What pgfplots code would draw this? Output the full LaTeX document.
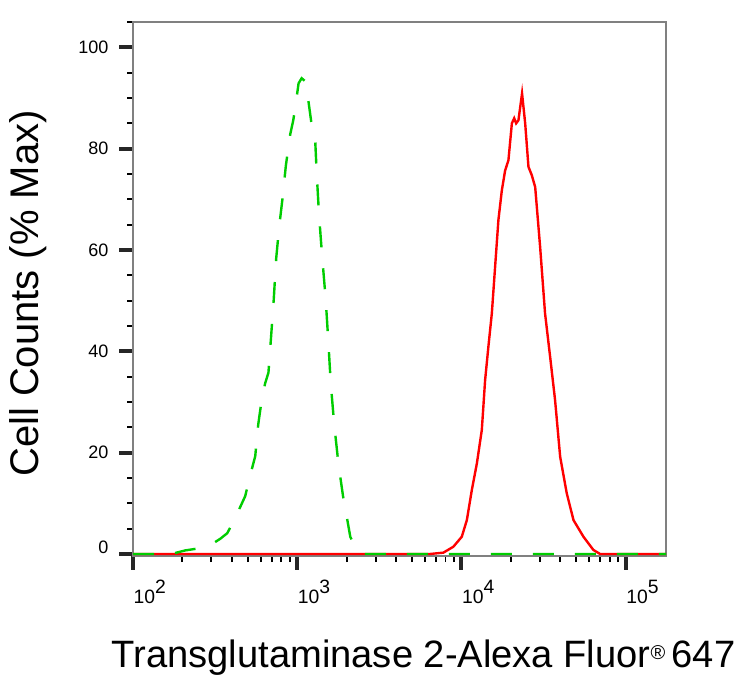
\documentclass[border=0pt]{standalone}
\usepackage{pgfplots}
\pgfplotsset{compat=1.18}
\usepackage{fontspec}
\setmainfont{Liberation Sans}
\definecolor{fcred}{RGB}{255,0,0}
\definecolor{fcgreen}{RGB}{0,205,0}
\definecolor{axgray}{RGB}{128,128,128}
\newcommand\dec[1]{10\raisebox{7.5pt}{#1}}

\begin{document}
\begin{tikzpicture}
\begin{axis}[
  scale only axis, width=399.75pt, height=400.5pt,
  xmode=log, xmin=100, xmax=176000,
  ymin=-0.4, ymax=105,
  axis line style={axgray, line width=1.5pt},
  xtick pos=lower, ytick pos=left, tick align=outside,
  xtick={100,1000,10000,100000},
  xticklabels={\dec{2},\dec{3},\dec{4},\dec{5}},
  minor xtick={200,300,400,500,600,700,800,900,2000,3000,4000,5000,6000,7000,8000,9000,20000,30000,40000,50000,60000,70000,80000,90000},
  ytick={0,20,40,60,80,100},
  yticklabels={\raisebox{10pt}{0},20,40,60,80,100},
  minor ytick={5,10,15,25,30,35,45,50,55,65,70,75,85,90,95,105},
  major tick length=10.5pt, minor tick length=4.5pt,
  major tick style={line width=3pt, black!85},
  minor tick style={line width=1.4pt, black},
  ticklabel style={font=\fontsize{13.5}{13.5}\selectfont},
  xticklabel style={anchor=north west, xshift=-3pt, yshift=-4pt, font=\fontsize{14.5}{14.5}\selectfont},
  yticklabel style={xshift=-4.5pt},
  xlabel={Transglutaminase 2-Alexa Fluor\raisebox{6.5pt}{\fontsize{15}{15}\selectfont\textregistered}\,647},
  xlabel style={at={(axis description cs:0.545,-0.2097)}, anchor=base, font=\fontsize{28.6}{28.6}\selectfont},
  ylabel={Cell Counts (\% Max)},
  ylabel style={at={(axis description cs:-0.1775,0.4916)}, anchor=base, font=\fontsize{30}{30}\selectfont},
]
\addplot[fcred, line width=1.8pt] coordinates {
(100,0) (6442,0) (7762,0.26) (8933,1.44) (10046,3.4) (10789,6.7) (11561,12.6)
(12417,17.9) (13305,24.5) (13932,34.3) (14588,40.9) (15311,47.5) (16032,56.7)
(16788,65.9) (17620,71.8) (18450,75.7) (19320,77.7) (20277,85.0) (20941,86.0)
(21528,85.0) (22233,85.6) (23388,90.9) (24434,85.0) (25586,76.4) (26792,74.8)
(28119,72.4) (30130,60.6) (32285,47.5) (34674,38.9) (37154,30.4) (39902,19.2)
(43752,12.0) (48084,6.7) (55335,3.4) (63533,0.8) (69823,0) (176000,0)
};
\addplot[fcgreen, line width=1.8pt, dash pattern=on 15.75pt off 15.75pt] coordinates {
(100,0) (157,0) (181,0.2) (208,0.7) (239,1.0) (275,1.4) (304,2.0) (340,3.0)
(375,4.1) (407,6.3) (450,9.3) (482,11.4) (518,15.6) (555,19.3) (579,25.6)
(604,29.8) (638,33.7) (668,35.8) (690,42.0) (719,50.1) (745,58.4) (776,64.5)
(811,69.8) (853,76.7) (906,82.8) (946,85.6) (986,89.5) (1019,92.9) (1064,93.9)
(1119,93.3) (1172,89.2) (1216,85.4) (1288,81.3) (1315,74.9) (1358,66.9)
(1419,58.6) (1489,50.5) (1545,42.2) (1600,33.7) (1679,25.6) (1782,17.8)
(1905,11.2) (2004,7.3) (2104,3.4) (2254,1.4) (2477,0) (176000,0)
};
\coordinate (sw) at (rel axis cs:0,0);
\end{axis}
\pgfresetboundingbox
\path[use as bounding box] (sw) ++(-99.75pt,-92.25pt) rectangle ++(558pt,509.25pt);
\end{tikzpicture}
\end{document}
